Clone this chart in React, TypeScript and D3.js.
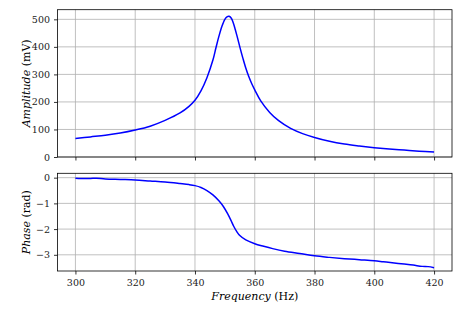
import { useEffect, useRef } from 'react';
import * as d3 from 'd3';

// Amplitude readings (mV) against drive frequency (Hz)
const ampFreq = [
    300, 305, 310, 315, 320, 325, 330, 335, 338, 340, 342, 344, 346, 347, 348, 349, 350, 350.7, 351.4, 352.1, 352.8,
    353.5, 354.3, 355, 356, 357, 358, 359, 360, 362, 365, 368, 372, 376, 380, 385, 390, 395, 400, 405, 410, 415, 420,
];
const ampValues = [
    67, 73, 79, 87, 98, 112, 133, 160, 184, 206, 240, 288, 352, 396, 438, 474, 500, 509, 511, 505, 488, 462, 430, 400,
    360, 323, 292, 266, 244, 204, 162, 132, 104, 85, 71, 57, 47, 40, 34, 29, 25, 21, 18,
];

// Phase readings (rad)
const phaseFreq = [
    300, 302, 305, 307, 310, 315, 320, 325, 330, 335, 338, 340, 342, 344, 346, 348, 349.5, 351, 352, 353, 354, 355, 357,
    360, 363, 366, 370, 375, 380, 385, 390, 395, 400, 403, 406, 410, 413, 416, 418, 420,
];
const phaseValues = [
    -0.02, -0.03, -0.03, -0.02, -0.05, -0.07, -0.09, -0.13, -0.17, -0.23, -0.27, -0.31, -0.38, -0.5, -0.67, -0.9, -1.12,
    -1.42, -1.65, -1.9, -2.1, -2.25, -2.42, -2.57, -2.67, -2.76, -2.86, -2.95, -3.04, -3.1, -3.15, -3.19, -3.23, -3.27,
    -3.31, -3.36, -3.4, -3.45, -3.46, -3.5,
];

const freqTicks = [300, 320, 340, 360, 380, 400, 420];
const ampTicks = [0, 100, 200, 300, 400, 500];
const phaseTicks = [0, -1, -2, -3];

const W = 463;
const H = 316;

export default function App() {
    const svgRef = useRef<SVGSVGElement>(null);

    useEffect(() => {
        if (!svgRef.current) return;
        const svg = d3.select(svgRef.current);
        svg.selectAll('*').remove();

        const left = 57.5;
        const right = 452;
        const topPanel = { y0: 9.7, y1: 157 };
        const botPanel = { y0: 173.3, y1: 271 };

        const x = d3.scaleLinear().domain([294, 426]).range([left, right]);
        const yAmp = d3.scaleLinear().domain([0, 535]).range([topPanel.y1, topPanel.y0]);
        const yPh = d3.scaleLinear().domain([-3.63, 0.17]).range([botPanel.y1, botPanel.y0]);

        const fmt = (d: d3.NumberValue) => {
            const v = +d;
            return v < 0 ? '\u2212' + Math.abs(v) : String(v);
        };

        const panel = (
            y: d3.ScaleLinear<number, number>,
            ticks: number[],
            p: { y0: number; y1: number },
            showX: boolean,
            xs: number[],
            ys: number[],
        ) => {
            const g = svg.append('g');

            // grid
            g.selectAll('.vg')
                .data(freqTicks)
                .enter()
                .append('line')
                .attr('x1', (d) => x(d))
                .attr('x2', (d) => x(d))
                .attr('y1', p.y0)
                .attr('y2', p.y1)
                .attr('stroke', '#b0b0b0')
                .attr('stroke-width', 0.8);
            g.selectAll('.hg')
                .data(ticks)
                .enter()
                .append('line')
                .attr('x1', left)
                .attr('x2', right)
                .attr('y1', (d) => y(d))
                .attr('y2', (d) => y(d))
                .attr('stroke', '#b0b0b0')
                .attr('stroke-width', 0.8);

            // line
            const line = d3
                .line<number>()
                .x((_, i) => x(xs[i]))
                .y((d) => y(d))
                .curve(d3.curveCatmullRom.alpha(0.5));
            g.append('path')
                .datum(ys)
                .attr('fill', 'none')
                .attr('stroke', '#0000ff')
                .attr('stroke-width', 1.5)
                .attr('stroke-linejoin', 'round')
                .attr('d', line);

            // axes
            const xa = g
                .append('g')
                .attr('transform', `translate(0,${p.y1})`)
                .call(
                    d3
                        .axisBottom(x)
                        .tickValues(freqTicks)
                        .tickSize(3.5)
                        .tickPadding(4.5)
                        .tickFormat(showX ? (d) => String(d) : () => ''),
                );
            const ya = g
                .append('g')
                .attr('transform', `translate(${left},0)`)
                .call(d3.axisLeft(y).tickValues(ticks).tickSize(3.5).tickPadding(4).tickFormat(fmt));
            [xa, ya].forEach((a) => {
                a.select('.domain').remove();
                a.selectAll('line').attr('stroke', '#000').attr('stroke-width', 0.8);
                a.selectAll('text')
                    .attr('fill', '#222')
                    .style('font-family', '"DejaVu Serif"')
                    .style('font-size', '9.5px');
            });

            // spines
            g.append('rect')
                .attr('x', left)
                .attr('y', p.y0)
                .attr('width', right - left)
                .attr('height', p.y1 - p.y0)
                .attr('fill', 'none')
                .attr('stroke', '#000')
                .attr('stroke-width', 0.8);
        };

        panel(yAmp, ampTicks, topPanel, false, ampFreq, ampValues);
        panel(yPh, phaseTicks, botPanel, true, phaseFreq, phaseValues);

        const label = (tx: string, italic: string, rest: string) => {
            const t = svg
                .append('text')
                .attr('transform', tx)
                .attr('text-anchor', 'middle')
                .style('font-family', '"DejaVu Serif"')
                .style('font-size', '11px')
                .attr('fill', '#000');
            t.append('tspan').style('font-style', 'italic').text(italic);
            t.append('tspan').text(rest);
        };

        label(`translate(${(left + right) / 2},299.5)`, 'Frequency', ' (Hz)');
        label(`translate(30,${(topPanel.y0 + topPanel.y1) / 2}) rotate(-90)`, 'Amplitude', ' (mV)');
        label(`translate(30,${(botPanel.y0 + botPanel.y1) / 2}) rotate(-90)`, 'Phase', ' (rad)');
    }, []);

    return (
        <svg
            ref={svgRef}
            width={W}
            height={H}
            viewBox={`0 0 ${W} ${H}`}
            style={{ position: 'absolute', left: 0, top: 0, background: '#fff' }}
        />
    );
}
